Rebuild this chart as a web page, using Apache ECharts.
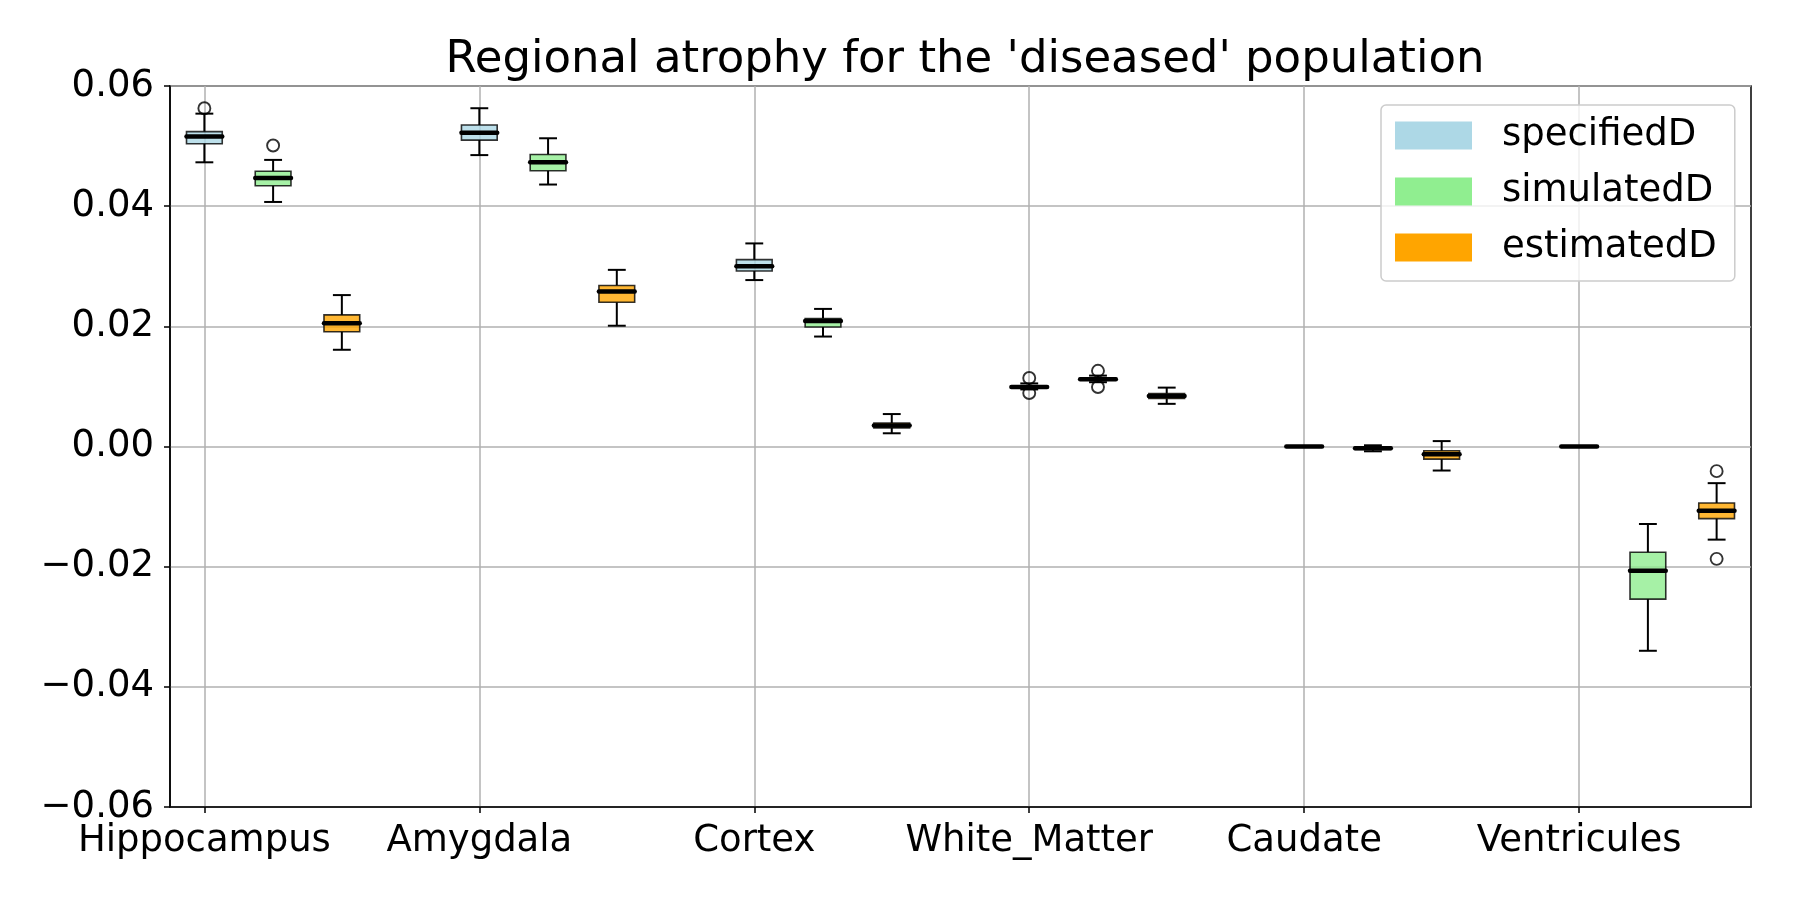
<!DOCTYPE html>
<html>
<head>
<meta charset="utf-8">
<script src="https://cdn.jsdelivr.net/npm/echarts@6/dist/echarts.min.js"></script>
<style>
  html, body { margin: 0; padding: 0; background: #fff; }
  #main { width: 1800px; height: 900px; }
</style>
</head>
<body>
<div id="main"></div>
<script>
var regions = ['Hippocampus', 'Amygdala', 'Cortex', 'White_Matter', 'Caudate', 'Ventricules'];
var groupNames = ['specifiedD', 'simulatedD', 'estimatedD'];
var groupColors = ['#add8e6', '#90ee90', '#ffa500'];

// [low whisker, Q1, median, Q3, high whisker] per region
var specifiedD = [
    [0.0473, 0.0504, 0.0516, 0.0524, 0.0554],
    [0.0485, 0.0510, 0.0522, 0.0535, 0.0563],
    [0.0277, 0.0292, 0.0300, 0.0311, 0.0338],
    [0.0095, 0.0098, 0.0099, 0.0101, 0.0105],
    [0, 0, 0, 0, 0],
    [0, 0, 0, 0, 0]
];
var simulatedD = [
    [0.0407, 0.0434, 0.0447, 0.0458, 0.0477],
    [0.0436, 0.0459, 0.0473, 0.0486, 0.0513],
    [0.0183, 0.0199, 0.0209, 0.0213, 0.0229],
    [0.0107, 0.0111, 0.0112, 0.0114, 0.0118],
    [-0.0008, -0.0005, -0.0003, -0.0001, 0.0002],
    [-0.0340, -0.0254, -0.0207, -0.0176, -0.0129]
];
var estimatedD = [
    [0.0161, 0.0191, 0.0205, 0.0219, 0.0252],
    [0.0201, 0.0240, 0.0258, 0.0268, 0.0294],
    [0.0022, 0.0031, 0.0035, 0.0039, 0.0054],
    [0.0071, 0.0080, 0.0084, 0.0088, 0.0098],
    [-0.0040, -0.0021, -0.0013, -0.0007, 0.0009],
    [-0.0155, -0.0120, -0.0107, -0.0094, -0.0061]
];
// outliers: [region index, value]
var specifiedOut = [[0, 0.0563], [3, 0.0114], [3, 0.0089]];
var simulatedOut = [[0, 0.0501], [3, 0.0126], [3, 0.0099]];
var estimatedOut = [[5, -0.0041], [5, -0.0187]];

var yTicks = [-0.06, -0.04, -0.02, 0, 0.02, 0.04, 0.06];

var groups = [specifiedD, simulatedD, estimatedD];
var outs = [specifiedOut, simulatedOut, estimatedOut];

function boxRows(stats, g) {
    var rows = [];
    for (var i = 0; i < stats.length; i++) {
        rows.push([i * 4 + g].concat(stats[i]));
    }
    return rows;
}

function renderBox(params, api) {
    var x = api.value(0);
    var pLo = api.coord([x, api.value(1)]);
    var pQ1 = api.coord([x, api.value(2)]);
    var pMed = api.coord([x, api.value(3)]);
    var pQ3 = api.coord([x, api.value(4)]);
    var pHi = api.coord([x, api.value(5)]);
    var w = api.size([0.52, 0])[0];
    var cx = pMed[0];
    var line = { stroke: '#000', lineWidth: 2 };
    var fill = api.visual('color');
    return {
        type: 'group',
        children: [
            { type: 'line', shape: { x1: cx, y1: pQ1[1], x2: cx, y2: pLo[1] }, style: line },
            { type: 'line', shape: { x1: cx, y1: pQ3[1], x2: cx, y2: pHi[1] }, style: line },
            { type: 'line', shape: { x1: cx - w / 4, y1: pLo[1], x2: cx + w / 4, y2: pLo[1] }, style: line },
            { type: 'line', shape: { x1: cx - w / 4, y1: pHi[1], x2: cx + w / 4, y2: pHi[1] }, style: line },
            { type: 'rect', shape: { x: cx - w / 2, y: pQ3[1], width: w, height: pQ1[1] - pQ3[1] },
              style: { fill: fill, opacity: 0.8, stroke: '#000', lineWidth: 1.6 } },
            { type: 'line', shape: { x1: cx - w / 2, y1: pMed[1], x2: cx + w / 2, y2: pMed[1] },
              style: { stroke: '#000', lineWidth: 4.5, lineCap: 'round' } }
        ]
    };
}

var series = [];
for (var g = 0; g < 3; g++) {
    series.push({
        name: groupNames[g],
        type: 'custom',
        renderItem: renderBox,
        itemStyle: { color: groupColors[g] },
        encode: { x: 0, y: [1, 2, 3, 4, 5] },
        data: boxRows(groups[g], g),
        z: 3
    });
    series.push({
        type: 'scatter',
        symbol: 'circle',
        symbolSize: 12,
        itemStyle: { color: 'rgba(0,0,0,0)', borderColor: '#000', borderWidth: 1.9 },
        data: outs[g].map(function (o) { return [o[0] * 4 + g, o[1]]; }),
        z: 4
    });
}

var fontFamily = 'DejaVu Sans';
var tickPos = regions.map(function (r, i) { return i * 4; });
var option = {
    animation: false,
    backgroundColor: '#fff',
    title: {
        text: "Regional atrophy for the 'diseased' population",
        left: 960, textAlign: 'center',
        top: 33,
        textStyle: { fontFamily: fontFamily, fontSize: 45, fontWeight: 'normal', color: '#000' }
    },
    legend: {
        orient: 'vertical',
        left: 1381, top: 105,
        padding: [12, 18, 15, 14],
        itemWidth: 77, itemHeight: 28, itemGap: 19,
        backgroundColor: 'rgba(255,255,255,0.8)',
        borderColor: '#cccccc', borderWidth: 1.5, borderRadius: 5,
        selectedMode: false,
        textStyle: { fontFamily: fontFamily, fontSize: 37, lineHeight: 28, color: '#000', padding: [0, 0, 0, 25] },
        data: groupNames.map(function (n, i) {
            return { name: n, icon: 'rect', itemStyle: { color: groupColors[i], borderWidth: 0 } };
        })
    },
    grid: {
        left: 170, right: 49, top: 86, bottom: 93,
        show: true, borderColor: '#000', borderWidth: 1.5, backgroundColor: 'transparent'
    },
    xAxis: {
        type: 'value',
        min: -0.5, max: 22.5,
        axisLine: { show: true, onZero: false, lineStyle: { color: '#000', width: 1.5 } },
        axisTick: { show: true, length: 6, lineStyle: { color: '#000', width: 1.5 }, customValues: tickPos },
        axisLabel: {
            customValues: tickPos,
            formatter: function (v) { return regions[Math.round(v / 4)]; },
            fontFamily: fontFamily, fontSize: 37, color: '#000', margin: 16
        },
        splitLine: { show: true, lineStyle: { color: '#b0b0b0', width: 1.5 } }
    },
    yAxis: {
        type: 'value',
        min: yTicks[0], max: yTicks[yTicks.length - 1], interval: 0.02,
        axisLine: { show: true, onZero: false, lineStyle: { color: '#000', width: 1.5 } },
        axisTick: { show: true, length: 6, lineStyle: { color: '#000', width: 1.5 } },
        axisLabel: {
            formatter: function (v) {
                if (Math.abs(v) < 1e-9) return '0.00';
                return (v < 0 ? '\u2212' : '') + Math.abs(v).toFixed(2);
            },
            fontFamily: fontFamily, fontSize: 37, color: '#000', margin: 16
        },
        splitLine: { show: true, lineStyle: { color: '#b0b0b0', width: 1.5 } }
    },
    series: series
};

var chart = echarts.init(document.getElementById('main'));
chart.setOption(option);
</script>
</body>
</html>
